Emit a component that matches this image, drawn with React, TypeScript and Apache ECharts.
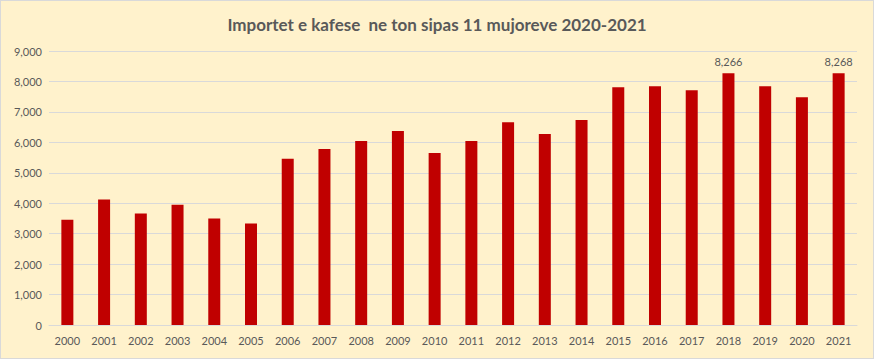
import React, { useEffect, useRef } from "react";
import * as echarts from "echarts";

const years = ["2000","2001","2002","2003","2004","2005","2006","2007","2008","2009","2010","2011","2012","2013","2014","2015","2016","2017","2018","2019","2020","2021"];
const values = [3460,4120,3660,3950,3500,3330,5460,5780,6040,6370,5650,6040,6660,6270,6730,7810,7840,7710,8266,7840,7480,8268];
const labelledYears = ["2018", "2021"];
const titleText = "Importet e kafese  ne ton sipas 11 mujoreve 2020-2021";

const fmt = (v: number) => v.toLocaleString("en-US");

export default function App() {
  const ref = useRef<HTMLDivElement>(null);
  useEffect(() => {
    document.body.style.margin = "0";
    const chart = echarts.init(ref.current!, undefined, { renderer: "svg" });
    chart.setOption({
      animation: false,
      backgroundColor: "#fff2cc",
      title: {
        text: titleText,
        left: "center",
        top: 10,
        textStyle: { fontFamily: "Lato", fontWeight: "bold", fontSize: 17, color: "#595959" },
      },
      grid: { left: 48, right: 16, top: 50, bottom: 33 },
      xAxis: {
        type: "category",
        data: years,
        axisTick: { show: false },
        axisLine: { show: true, lineStyle: { color: "#d9d9d9" } },
        axisLabel: { color: "#595959", fontFamily: "Lato", fontSize: 11, margin: 10 },
      },
      yAxis: {
        type: "value",
        min: 0,
        max: 9000,
        interval: 1000,
        axisLine: { show: false },
        axisTick: { show: false },
        splitLine: { lineStyle: { color: "#d9d9d9" } },
        axisLabel: { color: "#595959", fontFamily: "Lato", fontSize: 11, margin: 7, formatter: (v: number) => fmt(v) },
      },
      series: [
        {
          type: "bar",
          data: values.map((v, i) => ({
            value: v,
            label: {
              show: labelledYears.includes(years[i]),
              position: "top",
              distance: 6,
              color: "#595959",
              fontFamily: "Lato",
              fontSize: 11,
              formatter: (p: any) => fmt(p.value),
            },
          })),
          barWidth: 12,
          itemStyle: { color: "#c00000" },
        },
      ],
    });
    return () => chart.dispose();
  }, []);
  return (
    <div
      ref={ref}
      style={{ width: 874, height: 359, boxSizing: "border-box", border: "1px solid #d9d9d9" }}
    />
  );
}
